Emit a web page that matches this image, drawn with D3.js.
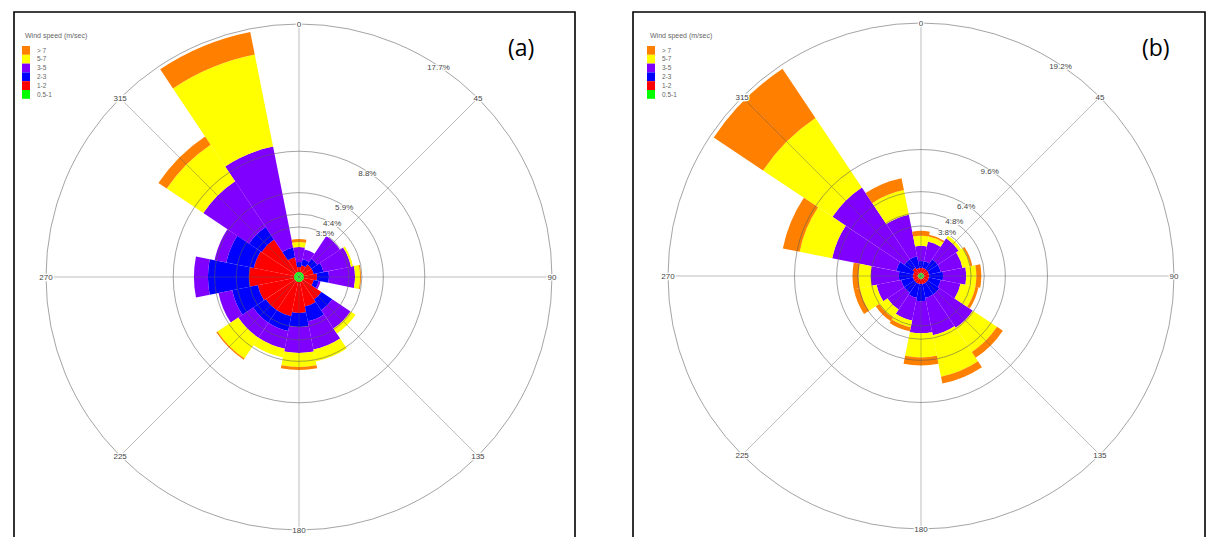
<!DOCTYPE html>
<html>
<head>
<meta charset="utf-8">
<script src="https://cdn.jsdelivr.net/npm/d3@7"></script>
<style>
  html, body { margin: 0; padding: 0; background: #fff; }
  svg { display: block; }
</style>
</head>
<body>
<svg id="chart" width="1210" height="537"></svg>
<script>
// Direction sectors (degrees, clockwise from north), 16 x 22.5°
const directions = [0, 22.5, 45, 67.5, 90, 112.5, 135, 157.5, 180, 202.5, 225, 247.5, 270, 292.5, 315, 337.5];

// Wind speed classes, inner to outer
const speedClasses = ["0.5-1", "1-2", "2-3", "3-5", "5-7", "> 7"];
const classColors = ["#00ff00", "#ff0000", "#0000ff", "#8000ff", "#ffff00", "#ff8000"];

// Angle labels around the rose
const angleLabels = ["0", "45", "90", "135", "180", "225", "270", "315"];

// Panel (a): frequency (%) per direction for each speed class
const aClass1 = [0.35, 0.35, 0.35, 0.35, 0.35, 0.35, 0.35, 0.35, 0.35, 0.35, 0.35, 0.35, 0.35, 0.35, 0.35, 0.35];
const aClass2 = [0.35, 0.49, 0.70, 0.70, 0.91, 0.70, 1.54, 1.75, 2.17, 2.45, 2.45, 2.59, 3.15, 2.87, 2.80, 1.05];
const aClass3 = [0.35, 0.42, 0.49, 0.70, 0.84, 0.35, 0.91, 1.05, 0.98, 1.05, 1.05, 1.82, 2.87, 1.96, 1.05, 0.70];
const aClass4 = [1.05, 0.70, 1.90, 1.96, 1.82, 0.14, 1.54, 2.03, 1.82, 1.26, 1.26, 0.98, 0.98, 0.84, 3.85, 7.20];
const aClass5 = [0.35, 0.00, 0.00, 0.14, 0.35, 0.00, 0.42, 0.84, 0.98, 0.63, 1.75, 0.00, 0.00, 0.00, 3.08, 6.57];
const aClass6 = [0.21, 0.00, 0.00, 0.00, 0.07, 0.00, 0.00, 0.00, 0.21, 0.00, 0.10, 0.00, 0.00, 0.00, 0.70, 1.61];
const aRingValues = [3.5, 4.4, 5.9, 8.8, 17.7];
const aRingLabels = ["3.5%", "4.4%", "5.9%", "8.8%", "17.7%"];

// Panel (b): frequency (%) per direction for each speed class
const bClass1 = [0.23, 0.23, 0.23, 0.23, 0.23, 0.23, 0.23, 0.23, 0.23, 0.23, 0.23, 0.23, 0.23, 0.23, 0.23, 0.23];
const bClass2 = [0.38, 0.38, 0.38, 0.38, 0.38, 0.38, 0.38, 0.38, 0.38, 0.38, 0.38, 0.38, 0.38, 0.38, 0.53, 0.38];
const bClass3 = [0.53, 0.53, 0.92, 0.92, 1.07, 0.92, 1.07, 1.07, 1.30, 1.07, 0.92, 0.92, 1.07, 1.30, 0.76, 0.92];
const bClass4 = [1.15, 1.53, 1.91, 1.68, 1.76, 1.53, 3.05, 2.90, 2.44, 1.76, 1.53, 1.91, 2.14, 4.96, 6.56, 3.21];
const bClass5 = [0.76, 0.38, 0.23, 0.61, 0.76, 1.15, 2.21, 3.21, 1.83, 0.53, 0.76, 1.30, 0.92, 2.52, 6.34, 1.91];
const bClass6 = [0.38, 0.15, 0.00, 0.15, 0.38, 0.23, 0.53, 0.53, 0.61, 0.31, 0.31, 0.46, 0.46, 1.30, 4.50, 0.92];
const bRingValues = [3.8, 4.8, 6.4, 9.6, 19.2];
const bRingLabels = ["3.8%", "4.8%", "6.4%", "9.6%", "19.2%"];

const svg = d3.select("#chart");
const R = 253;
const labelFont = "Liberation Sans, Arial, sans-serif";

function drawPanel(cfg) {
  const g = svg.append("g");

  // Panel frame (bottom edge runs off the page)
  g.append("path")
    .attr("d", `M${cfg.frame.x0},${cfg.frame.y1} V${cfg.frame.y0} H${cfg.frame.x1} V${cfg.frame.y1}`)
    .attr("fill", "none")
    .attr("stroke", "#000")
    .attr("stroke-width", 1.6);

  const rose = g.append("g").attr("transform", `translate(${cfg.cx},${cfg.cy})`);
  const maxRing = d3.max(cfg.rings);
  const r = d3.scaleLinear().domain([0, maxRing]).range([0, R]);
  const toRad = d => d * Math.PI / 180;
  const half = 11.25;

  // Stack the speed classes outward for every direction
  const rows = directions.map((dir, i) => {
    const obj = { dir };
    speedClasses.forEach((c, k) => { obj[c] = cfg.classes[k][i]; });
    return obj;
  });
  const stacked = d3.stack().keys(speedClasses)(rows);

  const arc = d3.arc();
  stacked.forEach((layer, k) => {
    rose.append("g")
      .selectAll("path")
      .data(layer)
      .join("path")
      .attr("d", d => arc({
        innerRadius: r(d[0]),
        outerRadius: r(d[1]),
        startAngle: toRad(d.data.dir - half),
        endAngle: toRad(d.data.dir + half)
      }))
      .attr("fill", classColors[k])
      .attr("stroke", "none");
  });

  // Rings and spokes over the bars
  rose.append("g")
    .selectAll("circle")
    .data(cfg.rings)
    .join("circle")
    .attr("r", d => r(d))
    .attr("fill", "none")
    .attr("stroke", "rgba(90,90,90,0.55)")
    .attr("stroke-width", 1);

  const spokeAngles = angleLabels.map(Number);
  rose.append("g")
    .selectAll("line")
    .data(spokeAngles)
    .join("line")
    .attr("x1", 0).attr("y1", 0)
    .attr("x2", d => R * Math.sin(toRad(d)))
    .attr("y2", d => -R * Math.cos(toRad(d)))
    .attr("stroke", "rgba(90,90,90,0.4)")
    .attr("stroke-width", 1);

  // Angle labels on the outer ring
  rose.append("g")
    .selectAll("text")
    .data(angleLabels)
    .join("text")
    .attr("x", d => R * Math.sin(toRad(+d)))
    .attr("y", d => -R * Math.cos(toRad(+d)))
    .attr("dy", "0.35em")
    .attr("text-anchor", "middle")
    .attr("font-family", labelFont)
    .attr("font-size", 8)
    .attr("fill", "#444")
    .attr("stroke", "#fff")
    .attr("stroke-width", 2.5)
    .attr("paint-order", "stroke")
    .text(d => d);

  // Ring value labels along the 34° bearing
  const labAng = toRad(34);
  rose.append("g")
    .selectAll("text")
    .data(cfg.rings)
    .join("text")
    .attr("x", (d, i) => r(d) * Math.sin(labAng) - 2)
    .attr("y", (d, i) => -r(d) * Math.cos(labAng) + (i < 2 ? -2 : 0))
    .attr("dy", "0.35em")
    .attr("text-anchor", "middle")
    .attr("font-family", labelFont)
    .attr("font-size", 8)
    .attr("fill", "#444")
    .attr("stroke", "#fff")
    .attr("stroke-width", 2)
    .attr("paint-order", "stroke")
    .text((d, i) => cfg.ringLabels[i]);

  // Legend
  const lg = g.append("g").attr("transform", `translate(${cfg.legend.x},${cfg.legend.y})`);
  lg.append("text")
    .attr("x", 3).attr("y", 0)
    .attr("font-family", labelFont)
    .attr("font-size", 7)
    .attr("fill", "#666")
    .text("Wind speed (m/sec)");
  const legendOrder = d3.range(speedClasses.length).reverse();
  legendOrder.forEach((k, j) => {
    lg.append("rect")
      .attr("x", 0).attr("y", 8 + j * 8.8)
      .attr("width", 8).attr("height", 8.8)
      .attr("fill", classColors[k]);
    lg.append("text")
      .attr("x", 15).attr("y", 8 + j * 8.8 + 6.5)
      .attr("font-family", labelFont)
      .attr("font-size", 6.5)
      .attr("fill", "#666")
      .text(speedClasses[k]);
  });

  // Panel tag
  g.append("text")
    .attr("x", cfg.tag.x).attr("y", cfg.tag.y)
    .attr("font-family", "Open Sans, Liberation Sans, sans-serif")
    .attr("font-size", 23)
    .attr("fill", "#000")
    .text(cfg.tag.text);
}

drawPanel({
  frame: { x0: 14, x1: 575, y0: 12, y1: 540 },
  cx: 299, cy: 277,
  classes: [aClass1, aClass2, aClass3, aClass4, aClass5, aClass6],
  rings: aRingValues, ringLabels: aRingLabels,
  legend: { x: 22, y: 38 },
  tag: { x: 508, y: 56, text: "(a)" }
});

drawPanel({
  frame: { x0: 633, x1: 1205, y0: 12, y1: 540 },
  cx: 921, cy: 276,
  classes: [bClass1, bClass2, bClass3, bClass4, bClass5, bClass6],
  rings: bRingValues, ringLabels: bRingLabels,
  legend: { x: 647, y: 38 },
  tag: { x: 1142, y: 56, text: "(b)" }
});
</script>
</body>
</html>
